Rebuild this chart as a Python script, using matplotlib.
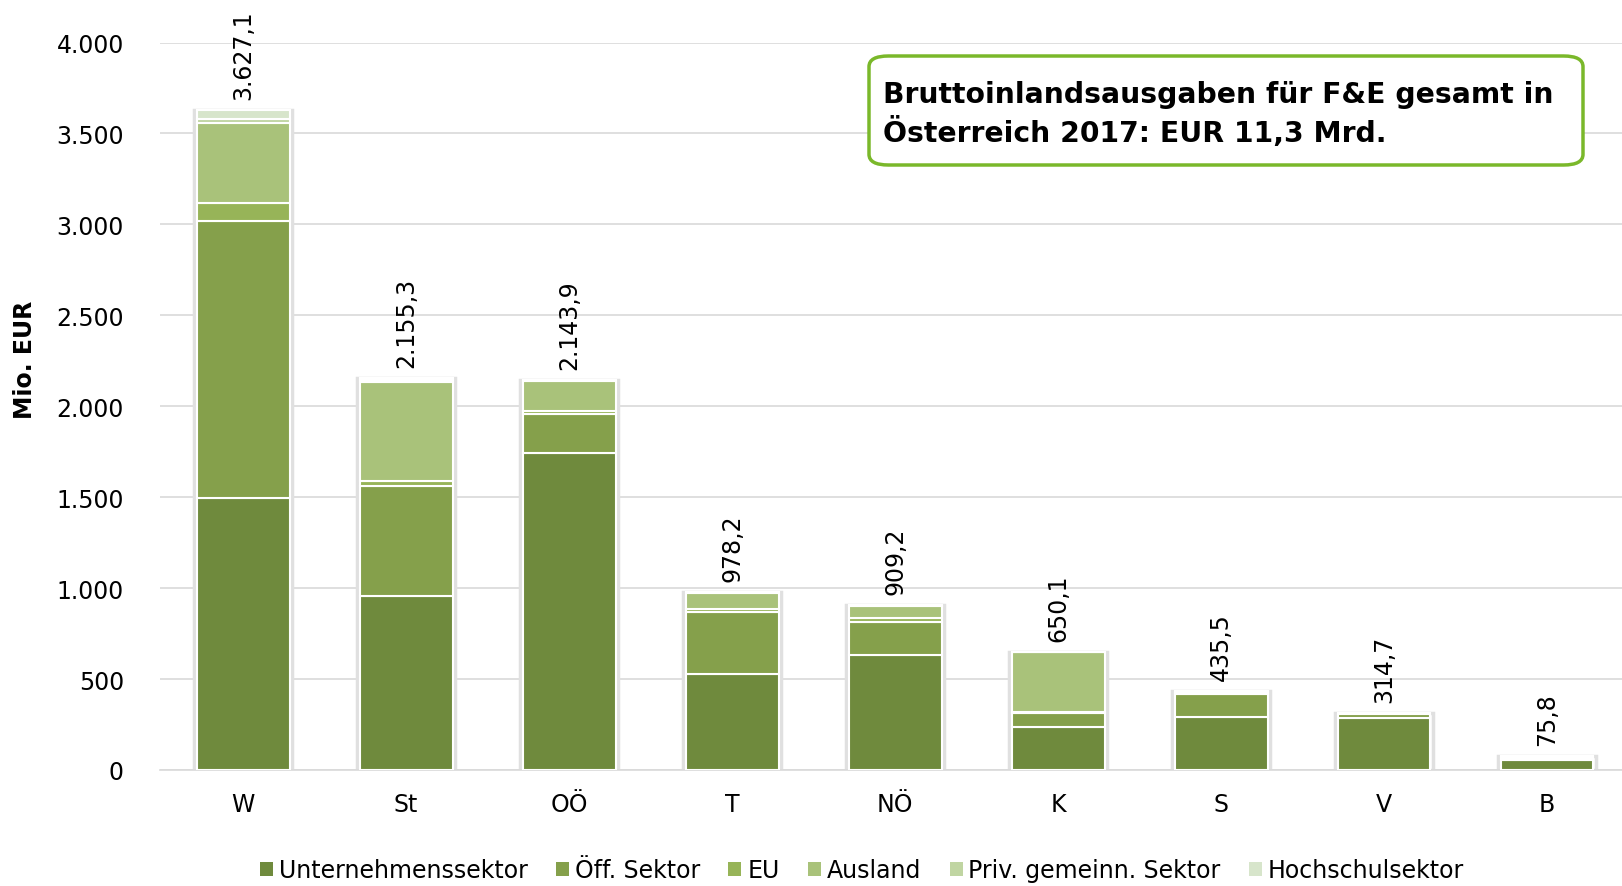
import matplotlib
matplotlib.use("Agg")
import matplotlib.pyplot as plt
from matplotlib.patches import FancyBboxPatch, Patch
import numpy as np

regions = ["W", "St", "OÖ", "T", "NÖ", "K", "S", "V", "B"]
totals = [3627.1, 2155.3, 2143.9, 978.2, 909.2, 650.1, 435.5, 314.7, 75.8]
unternehmen = [1495, 955, 1745, 530, 630, 235, 292, 285, 55]
oeff = [1525, 605, 215, 340, 185, 80, 125, 25, 3]
eu = [100, 30, 15, 15, 20, 5, 5, 2, 2]
ausland = [440, 545, 165, 90, 65, 330, 7, 1.7, 10]
priv = [20, 10, 2, 3, 5, 0.1, 4, 0.5, 3]
hochschul = [47.1, 10.3, 1.9, 0.2, 4.2, 0.0, 2.5, 0.5, 2.8]
series_names = ["Unternehmenssektor", "Öff. Sektor", "EU", "Ausland",
                "Priv. gemeinn. Sektor", "Hochschulsektor"]
colors = ["#6f8a3d", "#85a04b", "#97b458", "#a9c27a", "#c0d5a2", "#d7e5cb"]
yticks = [0, 500, 1000, 1500, 2000, 2500, 3000, 3500, 4000]
ytick_labels = ["0", "500", "1.000", "1.500", "2.000", "2.500", "3.000", "3.500", "4.000"]
title_text = "Bruttoinlandsausgaben für F&E gesamt in\nÖsterreich 2017: EUR 11,3 Mrd."

plt.rcParams['font.family'] = ['DejaVu Sans']
fig = plt.figure(figsize=(16.22, 8.87), dpi=100)
ax = fig.add_axes([160/1622, 1 - 771/887, 1 - 160/1622, (771 - 43.5)/887])

x = np.arange(len(regions))
# shadow frames
ax.bar(x, totals, width=0.6, color="white", edgecolor="#e0e0e0", linewidth=2.5, zorder=2)
series = [unternehmen, oeff, eu, ausland, priv, hochschul]
bottom = np.zeros(len(regions))
for vals, col in zip(series, colors):
    vals = np.array(vals, dtype=float)
    ax.bar(x, vals, bottom=bottom, width=0.57, color=col, edgecolor="white",
           linewidth=1.5, zorder=3)
    bottom += vals

for xi, t in zip(x, totals):
    lbl = f"{t:,.1f}".replace(",", "X").replace(".", ",").replace("X", ".")
    ax.text(xi, t + 60, lbl, rotation=90, ha="center", va="bottom",
            fontsize=17, color="black", clip_on=False, zorder=5)

ax.set_xlim(-0.51, 8.46)
ax.set_ylim(0, 4000)
ax.set_yticks(yticks)
ax.set_yticklabels(ytick_labels, fontsize=17)
ax.set_xticks(x)
ax.set_xticklabels(regions, fontsize=17)
ax.tick_params(axis="both", length=0)
ax.tick_params(axis="y", pad=26)
ax.tick_params(axis="x", pad=16)
ax.grid(axis="y", color="#d9d9d9", linewidth=1.2, zorder=0)
ax.set_axisbelow(True)
for s in ["top", "right", "left"]:
    ax.spines[s].set_visible(False)
ax.spines["bottom"].set_color("#d9d9d9")
ax.spines["bottom"].set_linewidth(1.2)

fig.text(25/1622, 1 - 360/887, "Mio. EUR", rotation=90, ha="center", va="center",
         fontsize=17, fontweight="bold")

# title box
bx0, by0, bx1, by1 = 869/1622, 1 - 166/887, 1583/1622, 1 - 57/887
box = FancyBboxPatch((bx0, by0), bx1 - bx0, by1 - by0,
                     boxstyle="round,pad=0,rounding_size=0.012",
                     transform=fig.transFigure, facecolor="white",
                     edgecolor="#7ab82a", linewidth=2.5, zorder=10)
fig.patches.append(box)
fig.text(883/1622, (by0 + by1) / 2 - 3/887, title_text, ha="left", va="center",
         fontsize=20.3, fontweight="bold", linespacing=1.3, zorder=11)

handles = [Patch(facecolor=c, edgecolor="none") for c in colors]
fig.legend(handles, series_names, loc="center", bbox_to_anchor=(862/1622, 1 - 871/887),
           ncol=6, frameon=False, fontsize=17, handlelength=0.55, handleheight=0.55,
           handletextpad=0.25, columnspacing=1.2)

fig.savefig("out.png", dpi=100)
